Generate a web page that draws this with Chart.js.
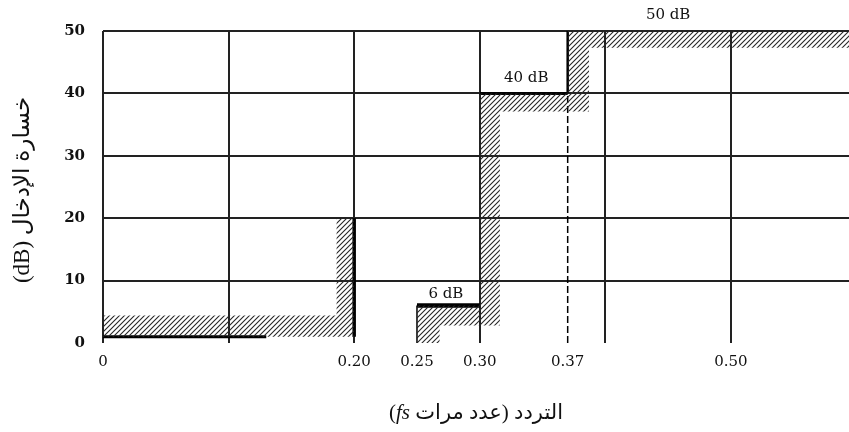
<!DOCTYPE html>
<html>
<head>
<meta charset="utf-8">
<script src="https://cdn.jsdelivr.net/npm/chart.js@4.4.1/dist/chart.umd.min.js"></script>
<style>
  html, body { margin: 0; padding: 0; background: #fff; }
  #wrap { width: 849px; height: 432px; position: relative; }
</style>
</head>
<body>
<div id="wrap"><canvas id="mask"></canvas></div>
<script>
// Frequency axis (multiples of fs) and attenuation axis (dB)
const xMax = 0.594;
const xGridTicks = [0, 0.1, 0.2, 0.25, 0.3, 0.37, 0.4, 0.5];
const xTickLabels = ['0', '', '0.20', '0.25', '0.30', '0.37', '', '0.50'];
const xUnlinedTicks = [0.25, 0.37];
const yTicks = [0, 10, 20, 30, 40, 50];

// Mask edges, [frequency, attenuation]
const passbandEdge = [[0, 1], [0.13, 1]];
const passbandLimit = [[0.2, 1], [0.2, 20]];
const step6Edge = [[0.25, 6], [0.3, 6]];
const step6Side = [[0.25, 0], [0.25, 6]];
const step40Edge = [[0.3, 40], [0.37, 40]];
const step50Side = [[0.37, 40], [0.37, 50]];
const guide037 = [[0.37, 0], [0.37, 40]];

// Hatched (forbidden) zones as closed outlines
const passbandZone = [[0, 1], [0.2, 1], [0.2, 20], [0.186, 20], [0.186, 4.4], [0, 4.4], [0, 1]];
const step6Zone = [[0.25, 0], [0.25, 6], [0.3, 6], [0.3, 2.8], [0.268, 2.8], [0.268, 0], [0.25, 0]];
const stopbandZone = [[0.3, 2.8], [0.3, 40], [0.37, 40], [0.37, 50], [xMax, 50], [xMax, 47.3],
                      [0.387, 47.3], [0.387, 37.1], [0.316, 37.1], [0.316, 2.8], [0.3, 2.8]];

// Level annotations: text, frequency, attenuation
const levelLabels = [['6 dB', 0.273, 7.8], ['40 dB', 0.337, 42.5], ['50 dB', 0.45, 52.6]];

const yTitle = 'خسارة الإدخال (dB)';
const xTitleArabic = 'التردد (عدد مرات ';
const xTitleLatin = 'fs';

const pts = arr => arr.map(([x, y]) => ({ x, y }));

const ctx = document.getElementById('mask').getContext('2d');

function hatchPattern() {
  const p = 5;
  const c = document.createElement('canvas');
  c.width = p; c.height = p;
  const g = c.getContext('2d');
  g.strokeStyle = '#262626';
  g.lineWidth = 1.1;
  g.beginPath();
  g.moveTo(0, p); g.lineTo(p, 0);
  g.moveTo(-1, 1); g.lineTo(1, -1);
  g.moveTo(p - 1, p + 1); g.lineTo(p + 1, p - 1);
  g.stroke();
  return ctx.createPattern(c, 'repeat');
}
const hatch = hatchPattern();

function zone(data) {
  return { data: pts(data), showLine: true, borderWidth: 0, borderColor: 'rgba(0,0,0,0)',
           backgroundColor: hatch, fill: 'shape', pointRadius: 0 };
}
function edge(data, width, dash) {
  return { data: pts(data), showLine: true, borderWidth: width, borderColor: '#000',
           borderDash: dash || [], fill: false, pointRadius: 0, borderCapStyle: 'butt' };
}

const annotations = {
  id: 'annotations',
  afterDraw(chart) {
    const { ctx: c, scales: { x, y }, chartArea } = chart;
    c.save();
    c.fillStyle = '#111';
    c.textBaseline = 'middle';
    c.textAlign = 'center';
    c.font = '15px "DejaVu Serif", serif';
    levelLabels.forEach(([t, fx, fy]) => c.fillText(t, x.getPixelForValue(fx), y.getPixelForValue(fy)));

    // vertical axis title
    c.save();
    c.translate(23, (chartArea.top + chartArea.bottom) / 2 + 3);
    c.rotate(-Math.PI / 2);
    c.direction = 'rtl';
    c.textAlign = 'center';
    c.font = '23px "Liberation Serif", "DejaVu Sans", serif';
    c.fillText(yTitle, 0, 0);
    c.restore();

    // horizontal axis title, with italic fs
    const cy = 413;
    const cx = (chartArea.left + chartArea.right) / 2;
    const arFont = '21px "Liberation Serif", "DejaVu Sans", serif';
    const itFont = 'italic 21px "Liberation Serif", serif';
    c.font = arFont; c.direction = 'ltr';
    const wParen = c.measureText('(').width;
    c.direction = 'rtl';
    const wAr = c.measureText(xTitleArabic).width;
    c.font = itFont; c.direction = 'ltr';
    const wIt = c.measureText(xTitleLatin).width;
    let sx = cx - (wParen + wIt + wAr) / 2;
    c.textAlign = 'left';
    c.font = arFont;
    c.fillText('(', sx, cy);
    c.font = itFont;
    c.fillText(xTitleLatin, sx + wParen, cy);
    c.font = arFont;
    c.direction = 'rtl';
    c.fillText(xTitleArabic, sx + wParen + wIt, cy);
    c.restore();
  }
};

new Chart(ctx, {
  type: 'scatter',
  data: {
    datasets: [
      zone(passbandZone),
      zone(step6Zone),
      zone(stopbandZone),
      edge(passbandEdge, 3),
      edge(passbandLimit, 3.5),
      edge(step6Edge, 4.5),
      edge(step6Side, 1.5),
      edge(step40Edge, 3),
      edge(step50Side, 2.5),
      edge(guide037, 1.5, [7, 3])
    ]
  },
  options: {
    responsive: true,
    maintainAspectRatio: false,
    animation: false,
    events: [],
    layout: { padding: { top: 31, right: 0, bottom: 0, left: 0 } },
    plugins: { legend: { display: false }, tooltip: { enabled: false } },
    scales: {
      x: {
        type: 'linear', min: 0, max: xMax,
        afterBuildTicks: s => { s.ticks = xGridTicks.map(v => ({ value: v })); },
        afterFit: s => { s.height = 89; },
        border: { display: false },
        grid: {
          drawTicks: false, lineWidth: 2,
          color: c => (c.tick && xUnlinedTicks.includes(c.tick.value)) ? 'rgba(0,0,0,0)' : '#222'
        },
        ticks: {
          padding: 10, color: '#111', maxRotation: 0, autoSkip: false,
          font: { family: '"DejaVu Serif", serif', size: 15 },
          callback: (v, i) => xTickLabels[i]
        }
      },
      y: {
        min: 0, max: 50,
        afterBuildTicks: s => { s.ticks = yTicks.map(v => ({ value: v })); },
        afterFit: s => { s.width = 103; },
        border: { display: false },
        grid: {
          drawTicks: false, lineWidth: 2,
          color: c => (c.tick && c.tick.value === 0) ? 'rgba(0,0,0,0)' : '#222'
        },
        ticks: {
          padding: 18, color: '#111',
          font: { family: '"DejaVu Serif", serif', size: 15, weight: 'bold' }
        }
      }
    }
  },
  plugins: [annotations]
});
</script>
</body>
</html>
